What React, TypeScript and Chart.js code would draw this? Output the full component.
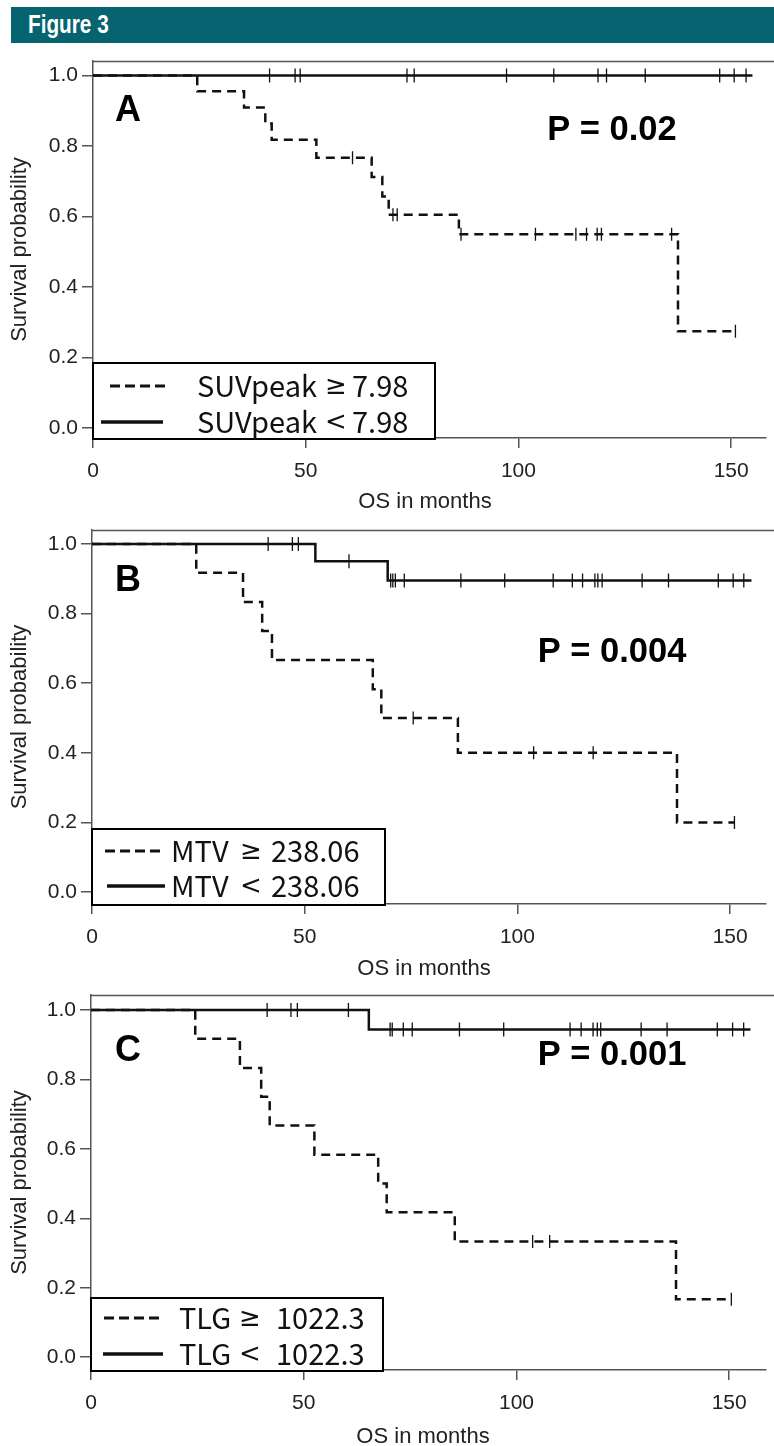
import React, { useEffect, useRef } from "react";
import { Chart, registerables } from "chart.js";

Chart.register(...registerables);

// ---------- shared tick labels ----------
const monthTicks = [0, 50, 100, 150];
const probTicks = [0, 0.2, 0.4, 0.6, 0.8, 1.0];

// ---------- Panel A : SUVpeak ----------
const aHighTimes = [0, 24.5, 35.5, 40.5, 42, 52.5, 65.5, 68, 69.5, 86, 137.5, 151];
const aHighSurv = [1, 0.955, 0.909, 0.864, 0.818, 0.767, 0.712, 0.657, 0.605, 0.55, 0.275, 0.275];
const aHighCensor = [61, 70.5, 71.5, 86.5, 104, 113.5, 116, 118.5, 119.5, 136, 151];
const aLowTimes = [0, 155];
const aLowSurv = [1, 1];
const aLowCensor = [41.5, 47.5, 48.7, 73.8, 75.5, 97.2, 108.3, 118.7, 120.7, 129.8, 147.3, 150.7, 153.5];

// ---------- Panel B : MTV ----------
const bHighTimes = [0, 24.5, 35.5, 40, 42.3, 66, 68, 86, 137.5, 151];
const bHighSurv = [1, 0.917, 0.833, 0.75, 0.667, 0.583, 0.5, 0.4, 0.2, 0.2];
const bHighCensor = [75.5, 103.8, 117.8, 151];
const bLowTimes = [0, 52.5, 69.5, 155];
const bLowSurv = [1, 0.95, 0.895, 0.895];
const bLowCensor = [41.4, 47.1, 48.5, 60.4, 70.2, 70.7, 71.3, 73.4, 86.7, 97, 108.4, 112.9, 115.3, 118.2, 118.9, 119.9, 129.3, 135.5, 147.2, 150.7, 153.2];

// ---------- Panel C : TLG ----------
const cHighTimes = [0, 24.5, 35, 40, 42, 52.5, 67.5, 69.5, 85.5, 137.5, 150.5];
const cHighSurv = [1, 0.917, 0.833, 0.75, 0.667, 0.583, 0.5, 0.417, 0.333, 0.167, 0.167];
const cHighCensor = [103.8, 107.8, 150.5];
const cLowTimes = [0, 65.3, 155];
const cLowSurv = [1, 0.944, 0.944];
const cLowCensor = [41.4, 47, 48.5, 60.5, 70.3, 70.8, 73.4, 75.5, 86.6, 97, 112.6, 115.2, 118, 119, 119.8, 129.3, 135.4, 147.2, 150.8, 153.4];

type Panel = {
  letter: string;
  pText: string;
  highLabel: string;
  lowLabel: string;
  highTimes: number[];
  highSurv: number[];
  highCensor: number[];
  lowTimes: number[];
  lowSurv: number[];
  lowCensor: number[];
  // layout
  canvasTop: number;
  canvasHeight: number;
  areaLeft: number;
  areaTop: number;
  areaBottom: number;
  yMin: number;
  yMax: number;
  letterDx: number;
  letterDy: number;
  pDx: number;
  pDy: number;
  xTitleDy: number;
  legW: number;
  legH: number;
  row1: number;
  row2: number;
  dashX: [number, number];
  solidX: [number, number];
  textX: number;
  symDx: number;
  valDx: number;
};

const PANELS: Panel[] = [
  {
    letter: "A", pText: "P = 0.02",
    highLabel: "SUVpeak \u2265 7.98", lowLabel: "SUVpeak < 7.98",
    highTimes: aHighTimes, highSurv: aHighSurv, highCensor: aHighCensor,
    lowTimes: aLowTimes, lowSurv: aLowSurv, lowCensor: aLowCensor,
    canvasTop: 50, canvasHeight: 470, areaLeft: 93, areaTop: 61, areaBottom: 438,
    yMin: -0.028, yMax: 1.041,
    letterDx: 35, letterDy: 50, pDx: 519, pDy: 69, xTitleDy: 64,
    legW: 342, legH: 76, row1: 23, row2: 59, dashX: [17, 77], solidX: [8, 70], textX: 104,
    symDx: 131, valDx: 155,
  },
  {
    letter: "B", pText: "P = 0.004",
    highLabel: "MTV \u2265 238.06", lowLabel: "MTV < 238.06",
    highTimes: bHighTimes, highSurv: bHighSurv, highCensor: bHighCensor,
    lowTimes: bLowTimes, lowSurv: bLowSurv, lowCensor: bLowCensor,
    canvasTop: 519, canvasHeight: 470, areaLeft: 92, areaTop: 530, areaBottom: 904,
    yMin: -0.034, yMax: 1.04,
    letterDx: 36, letterDy: 51, pDx: 520, pDy: 122, xTitleDy: 65,
    legW: 293, legH: 76, row1: 22, row2: 57, dashX: [13, 73], solidX: [15, 73], textX: 79,
    symDx: 72, valDx: 100,
  },
  {
    letter: "C", pText: "P = 0.001",
    highLabel: "TLG \u2265 1022.3", lowLabel: "TLG < 1022.3",
    highTimes: cHighTimes, highSurv: cHighSurv, highCensor: cHighCensor,
    lowTimes: cLowTimes, lowSurv: cLowSurv, lowCensor: cLowCensor,
    canvasTop: 984, canvasHeight: 462, areaLeft: 91, areaTop: 995, areaBottom: 1370,
    yMin: -0.037, yMax: 1.043,
    letterDx: 37, letterDy: 56, pDx: 521, pDy: 60, xTitleDy: 67,
    legW: 292, legH: 73, row1: 20, row2: 56, dashX: [13, 72], solidX: [12, 72], textX: 88,
    symDx: 63, valDx: 97,
  },
];

const CANVAS_W = 774;
const PX_PER_MONTH = 4.307;
const AXIS_COLOR = "#555";
const INK = "#111";
const SANS = "'Liberation Sans', Arial, sans-serif";
const LEGEND_FONT = "29px 'Noto Sans CJK KR', 'Noto Sans', sans-serif";
const SYMBOL_FONT = "26px 'DejaVu Sans', 'Noto Sans', sans-serif";
const SYMBOL_W = 16;

function survivalAt(times: number[], surv: number[], t: number): number {
  let s = surv[0];
  for (let i = 0; i < times.length; i++) {
    if (times[i] <= t) s = surv[i];
  }
  return s;
}

function KMPanel({ panel }: { panel: Panel }) {
  const ref = useRef<HTMLCanvasElement | null>(null);

  useEffect(() => {
    const canvas = ref.current;
    if (!canvas) return;
    const p = panel;
    const padTop = p.areaTop - p.canvasTop;
    const areaH = p.areaBottom - p.areaTop;
    const xAxisH = p.canvasHeight - padTop - areaH;
    const xMax = (CANVAS_W - p.areaLeft) / PX_PER_MONTH;

    const drawLegendLabels = (ctx: CanvasRenderingContext2D, x: number, y1: number, y2: number) => {
      const rows = [p.highLabel.split(" "), p.lowLabel.split(" ")];
      [y1, y2].forEach((y, i) => {
        const r = rows[i];
        ctx.textAlign = "left";
        ctx.font = LEGEND_FONT;
        ctx.fillText(r[0], x, y);
        ctx.font = SYMBOL_FONT;
        ctx.textAlign = "center";
        ctx.fillText(r[1], x + p.symDx + SYMBOL_W / 2, y + 1);
        ctx.textAlign = "left";
        ctx.font = LEGEND_FONT;
        ctx.fillText(r[2], x + p.valDx, y);
      });
    };

    const overlay = {
      id: "kmOverlay",
      afterDraw(chart: any) {
        const ctx = chart.ctx as CanvasRenderingContext2D;
        const a = chart.chartArea;
        ctx.save();
        // top frame line
        ctx.strokeStyle = AXIS_COLOR;
        ctx.lineWidth = 1.5;
        ctx.beginPath();
        ctx.moveTo(a.left, a.top + 0.5);
        ctx.lineTo(CANVAS_W, a.top + 0.5);
        ctx.stroke();

        // panel letter
        ctx.fillStyle = "#000";
        ctx.textAlign = "center";
        ctx.textBaseline = "middle";
        ctx.font = `bold 36px ${SANS}`;
        ctx.fillText(p.letter, a.left + p.letterDx, a.top + p.letterDy);
        // p value
        ctx.font = `bold 34.5px ${SANS}`;
        ctx.fillText(p.pText, a.left + p.pDx, a.top + p.pDy);

        // axis titles
        ctx.fillStyle = "#222";
        ctx.font = `22px ${SANS}`;
        ctx.fillText("OS in months", a.left + 332, a.bottom + p.xTitleDy);
        ctx.save();
        ctx.translate(20, (a.top + a.bottom) / 2);
        ctx.rotate(-Math.PI / 2);
        ctx.fillText("Survival probability", 0, 0);
        ctx.restore();

        // legend box
        const bx = a.left;
        const by = a.bottom + 1 - p.legH;
        ctx.fillStyle = "#fff";
        ctx.fillRect(bx, by, p.legW, p.legH);
        ctx.strokeStyle = "#000";
        ctx.lineWidth = 2;
        ctx.strokeRect(bx, by, p.legW, p.legH);

        ctx.strokeStyle = INK;
        ctx.lineWidth = 3;
        ctx.setLineDash([10, 5]);
        ctx.beginPath();
        ctx.moveTo(bx + p.dashX[0], by + p.row1);
        ctx.lineTo(bx + p.dashX[1], by + p.row1);
        ctx.stroke();
        ctx.setLineDash([]);
        ctx.lineWidth = 3.5;
        ctx.beginPath();
        ctx.moveTo(bx + p.solidX[0], by + p.row2);
        ctx.lineTo(bx + p.solidX[1], by + p.row2);
        ctx.stroke();

        ctx.fillStyle = "#111";
        ctx.textBaseline = "middle";
        drawLegendLabels(ctx, bx + p.textX, by + p.row1, by + p.row2);
        ctx.restore();
      },
    };

    const toPts = (ts: number[], ss: number[]) => ts.map((t, i) => ({ x: t, y: ss[i] }));
    const censorPts = (cs: number[], ts: number[], ss: number[]) =>
      cs.map((t) => ({ x: t, y: survivalAt(ts, ss, t) }));

    const chart = new Chart(canvas, {
      type: "line",
      data: {
        datasets: [
          {
            data: toPts(p.highTimes, p.highSurv),
            stepped: "before",
            borderColor: INK,
            borderWidth: 2.5,
            borderDash: [9, 6],
            pointRadius: 0,
            fill: false,
          },
          {
            data: toPts(p.lowTimes, p.lowSurv),
            stepped: "before",
            borderColor: INK,
            borderWidth: 2.5,
            pointRadius: 0,
            fill: false,
          },
          {
            type: "scatter",
            data: censorPts(p.highCensor, p.highTimes, p.highSurv),
            pointStyle: "line",
            rotation: 90,
            pointRadius: 6.5,
            borderColor: INK,
            borderWidth: 1.3,
            showLine: false,
          },
          {
            type: "scatter",
            data: censorPts(p.lowCensor, p.lowTimes, p.lowSurv),
            pointStyle: "line",
            rotation: 90,
            pointRadius: 7,
            borderColor: INK,
            borderWidth: 1.3,
            showLine: false,
          },
        ] as any,
      },
      options: {
        animation: false,
        responsive: false,
        maintainAspectRatio: false,
        events: [],
        layout: { padding: { top: padTop, left: 0, right: 0, bottom: 0 } },
        plugins: { legend: { display: false }, tooltip: { enabled: false } },
        scales: {
          x: {
            type: "linear",
            min: 0,
            max: xMax,
            afterBuildTicks: (s: any) => {
              s.ticks = monthTicks.map((v) => ({ value: v }));
            },
            afterFit: (s: any) => {
              s.height = xAxisH;
              s.paddingLeft = 0;
              s.paddingRight = 0;
              s.paddingTop = 0;
              s.paddingBottom = 0;
            },
            grid: { drawOnChartArea: false, drawTicks: true, tickLength: 10, color: AXIS_COLOR, lineWidth: 1.5 },
            border: { color: AXIS_COLOR, width: 1.5 },
            ticks: {
              color: "#222",
              font: { family: SANS, size: 21 },
              padding: 11,
              maxRotation: 0,
              callback: (v: any) => String(v),
            },
          },
          y: {
            type: "linear",
            min: p.yMin,
            max: p.yMax,
            afterBuildTicks: (s: any) => {
              s.ticks = probTicks.map((v) => ({ value: v }));
            },
            afterFit: (s: any) => {
              s.width = p.areaLeft;
              s.paddingTop = 0;
              s.paddingBottom = 0;
              s.paddingLeft = 0;
              s.paddingRight = 0;
            },
            grid: { drawOnChartArea: false, drawTicks: true, tickLength: 11, color: AXIS_COLOR, lineWidth: 1.5 },
            border: { color: AXIS_COLOR, width: 1.5 },
            ticks: {
              color: "#222",
              font: { family: SANS, size: 21 },
              padding: 4,
              callback: (v: any) => Number(v).toFixed(1),
            },
          },
        },
      } as any,
      plugins: [overlay],
    });

    return () => chart.destroy();
  }, [panel]);

  return (
    <canvas
      ref={ref}
      width={CANVAS_W}
      height={panel.canvasHeight}
      style={{ position: "absolute", left: 0, top: panel.canvasTop, display: "block" }}
    />
  );
}

export default function App() {
  useEffect(() => {
    document.body.style.margin = "0";
    document.body.style.background = "#fff";
  }, []);

  return (
    <div style={{ position: "relative", width: 774, height: 1446, background: "#fff", overflow: "hidden" }}>
      <div
        style={{
          position: "absolute",
          left: 11,
          top: 7,
          width: 763,
          height: 36,
          background: "#05646f",
        }}
      >
        <span
          style={{
            position: "absolute",
            left: 17,
            top: 2,
            color: "#fff",
            fontFamily: "'Liberation Sans', Arial, sans-serif",
            fontWeight: "bold",
            fontSize: 25,
            lineHeight: "30px",
            transform: "scaleX(0.83)",
            transformOrigin: "0 0",
            whiteSpace: "nowrap",
          }}
        >
          Figure 3
        </span>
      </div>
      {PANELS.map((p) => (
        <KMPanel key={p.letter} panel={p} />
      ))}
    </div>
  );
}
